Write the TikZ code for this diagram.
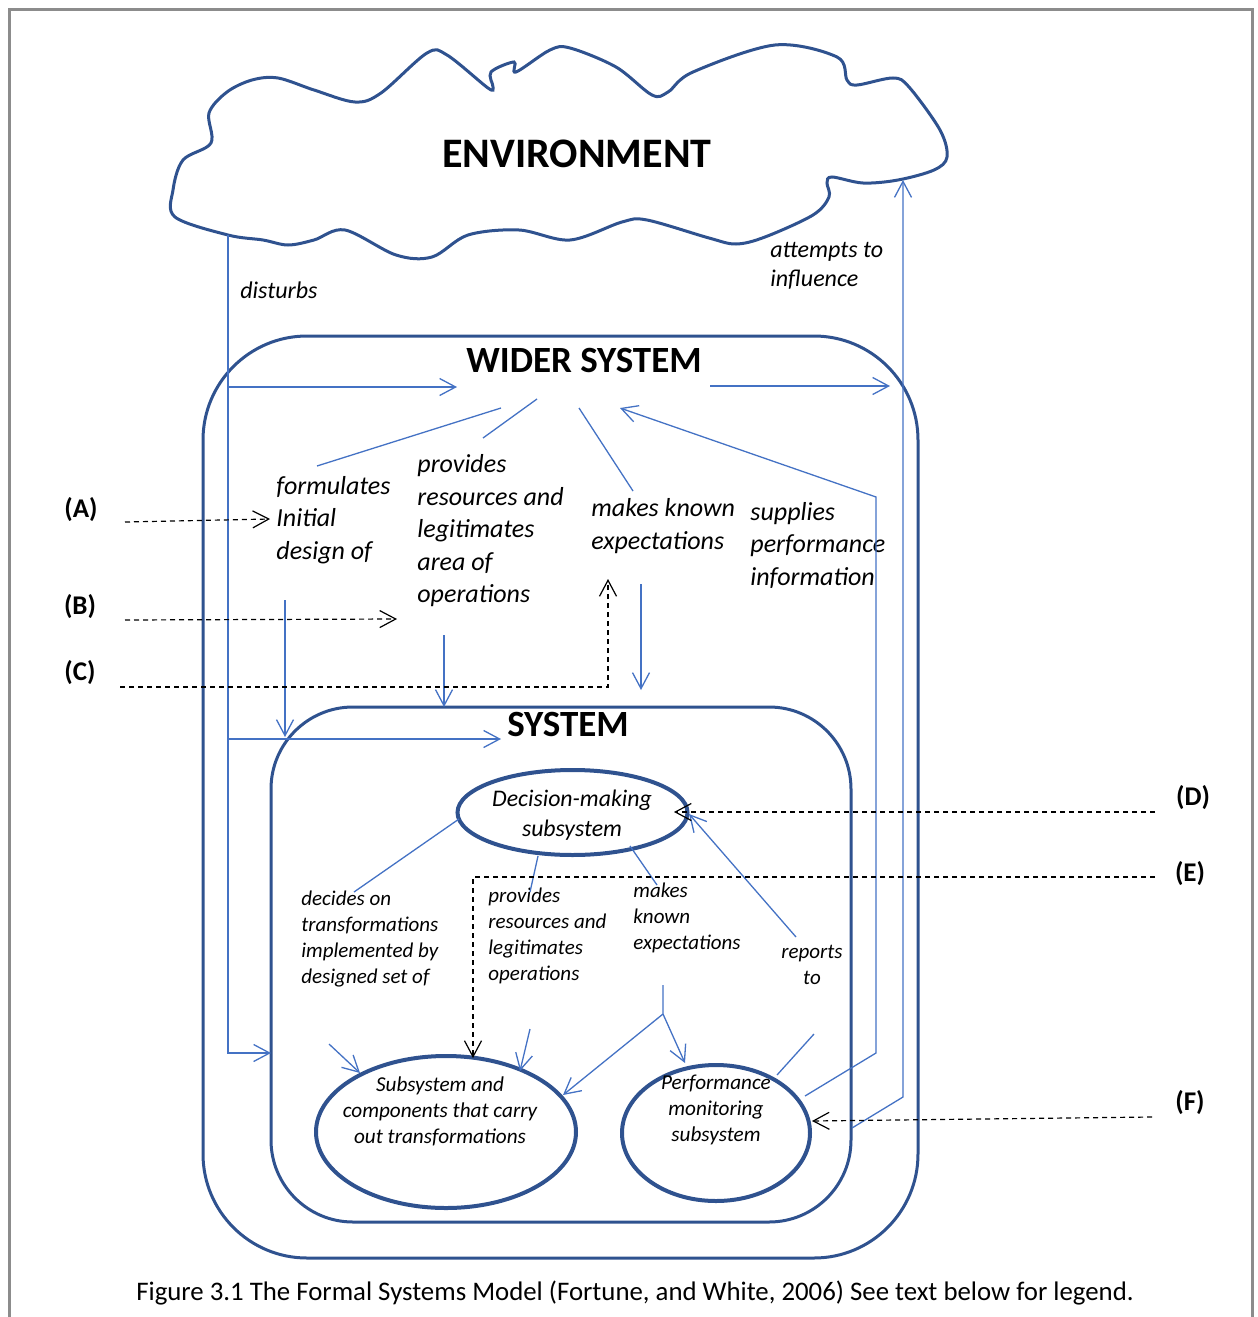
\documentclass[tikz,border=0pt]{standalone}
\usepackage{fontspec}
\setmainfont{Carlito}
\usetikzlibrary{arrows.meta,shapes.geometric}
\definecolor{framegray}{HTML}{8C8C8C}
\definecolor{outlineblue}{HTML}{2F528F}
\definecolor{linkblue}{HTML}{4472C4}
\begin{document}
\begin{tikzpicture}[x=0.5pt,y=-0.5pt,
  thinlink/.style={draw=linkblue,line width=0.65pt},
  arrowlink/.style={thinlink,-{Straight Barb[length=8pt,width=8.5pt]}},
  dashlink/.style={draw=black,line width=0.6pt,dash pattern=on 2.5pt off 2pt,-{Straight Barb[length=8pt,width=8.5pt]}},
  boxline/.style={draw=outlineblue,line width=1.5pt},
  oval/.style={ellipse,draw=outlineblue,line width=2pt,inner sep=0pt},
  bigtitle/.style={font=\bfseries\fontsize{21}{25}\selectfont,inner sep=0pt},
  midtitle/.style={font=\bfseries\fontsize{18.5}{22}\selectfont,inner sep=0pt},
  verb/.style={font=\itshape\fontsize{13}{16.25}\selectfont,align=left,inner sep=0pt,anchor=west},
  outerverb/.style={font=\itshape\fontsize{12}{14.5}\selectfont,align=left,inner sep=0pt,anchor=west},
  innerverb/.style={font=\itshape\fontsize{10.5}{13}\selectfont,align=left,inner sep=0pt,anchor=west},
  ovaltext/.style={font=\itshape\fontsize{10.6}{13}\selectfont,align=center,inner sep=0pt},
  tag/.style={font=\bfseries\fontsize{13.5}{16}\selectfont,inner sep=0pt}
]
\useasboundingbox (0,0) rectangle (1258,1317);

% page frame (open at the bottom)
\draw[framegray,line width=1.5pt] (9,1330) -- (9,9) -- (1252,9) -- (1252,1330);

% the environment cloud
\draw[outlineblue,line width=1.5pt] plot[smooth cycle,tension=0.55] coordinates {
  (228,235) (175,217) (173,190) (183,160) (211,143) (209,113) (227,92)
  (252,80) (278,78) (314,90) (355,102) (381,93) (427,53) (447,55)
  (488,88) (493,87) (491,72) (514,62) (516,72) (550,50) (570,48)
  (616,67) (652,95) (668,92) (693,72) (775,45) (837,57) (847,80)
  (857,85) (893,78) (909,87) (940,130) (947,157) (934,170) (898,180)
  (863,183) (832,177) (827,183) (829,197) (813,215) (765,237) (736,244)
  (709,238) (647,220) (622,222) (570,240) (519,230) (468,235) (432,257)
  (396,255) (345,230) (314,240) (288,245) (263,240)};
\node[bigtitle] (env) at (577,154) {ENVIRONMENT};

% wider system and system boxes
\node[boxline,rounded corners=52pt,minimum width=357.5pt,minimum height=461pt,inner sep=0pt] (wider) at (560.5,797) {};
\node[boxline,rounded corners=41pt,minimum width=290pt,minimum height=257.5pt,inner sep=0pt] (system) at (561,964.5) {};
\node[midtitle] (widertitle) at (584,360) {WIDER SYSTEM};
\node[midtitle] (systitle) at (568,724) {SYSTEM};

% subsystems
\node[oval,minimum width=115pt,minimum height=42.5pt] (dm) at (572.5,812.5) {};
\node[oval,minimum width=130pt,minimum height=76pt] (sub) at (446,1132) {};
\node[oval,minimum width=94pt,minimum height=68pt] (perf) at (716,1133) {};
\node[ovaltext,font=\itshape\fontsize{11.9}{15}\selectfont] (dmtext) at (572,815) {Decision-making\\subsystem};
\node[ovaltext] (subtext) at (440,1111) {Subsystem and\\components that carry\\out transformations};
\node[ovaltext] (perftext) at (716,1110) {Performance\\monitoring\\subsystem};

% verbs between environment and wider system
\node[outerverb] (disturbs) at (240,290) {disturbs};
\node[outerverb] (attempts) at (770,266) {attempts to\\influence};

% verbs inside the wider system
\node[verb] (formulates) at (276,520) {formulates\\Initial\\design of};
\node[verb] (provides) at (417,531) {provides\\resources and\\legitimates\\area of\\operations};
\node[verb] (makesknown) at (591,526) {makes known\\expectations};
\node[verb] (supplies) at (750,545) {supplies\\performance\\information};

% verbs inside the system
\node[innerverb] (decides) at (301,939) {decides on\\transformations\\implemented by\\designed set of};
\node[innerverb] (provides2) at (488,935.5) {provides\\resources and\\legitimates\\operations};
\node[innerverb] (makes2) at (633,918) {makes\\known\\expectations};
\node[innerverb,align=center,anchor=center] (reports) at (812,965) {reports\\to};

% legend tags
\node[tag] (tA) at (81,510) {(A)};
\node[tag] (tB) at (80,607) {(B)};
\node[tag] (tC) at (80,673) {(C)};
\node[tag] (tD) at (1193,798) {(D)};
\node[tag] (tE) at (1190,874) {(E)};
\node[tag] (tF) at (1190,1103) {(F)};

% caption
\node[font=\fontsize{13.4}{16}\selectfont,inner sep=0pt] (caption) at (635,1293)
  {Figure 3.1 The Formal Systems Model (Fortune, and White, 2006) See text below for legend.};

% connector end points
\coordinate (envfoot) at (228,235);
\coordinate (envright) at (903,180);
\coordinate (distcorner) at (228,1053);
\coordinate (sysleft) at (271,1053);
\coordinate (distA) at (228,387);
\coordinate (widerin) at (457,387);
\coordinate (distB) at (228,739);
\coordinate (sysin) at (501,739);
\coordinate (widerout) at (710,386);
\coordinate (wideroutend) at (890,386);
\coordinate (infl0) at (852,1128);
\coordinate (infl1) at (903,1097);
\coordinate (sup0) at (805,1096);
\coordinate (sup1) at (876,1053);
\coordinate (sup2) at (876,497);
\coordinate (sup3) at (620,408);
\coordinate (form0) at (317,466);
\coordinate (form1) at (501,408);
\coordinate (prov0) at (483,438);
\coordinate (prov1) at (537,399);
\coordinate (mk0) at (633,491);
\coordinate (mk1) at (579,408);
\coordinate (formdown0) at (285,600);
\coordinate (formdown1) at (285,737);
\coordinate (provdown0) at (444,635);
\coordinate (provdown1) at (444,707);
\coordinate (mkdown0) at (641,584);
\coordinate (mkdown1) at (641,690);
\coordinate (dec0) at (459,819);
\coordinate (dec1) at (354,892);
\coordinate (prov2a) at (538,856);
\coordinate (prov2b) at (530,892);
\coordinate (mk2a) at (630,846);
\coordinate (mk2b) at (657,885);
\coordinate (rep0) at (796,937);
\coordinate (rep1) at (689,814);
\coordinate (rep2) at (777,1075);
\coordinate (rep3) at (814,1034);
\coordinate (dec2) at (329,1044);
\coordinate (dec3) at (360,1073);
\coordinate (prov2c) at (530,1029);
\coordinate (prov2d) at (520,1071);
\coordinate (mk2c) at (663,985);
\coordinate (mk2fork) at (663,1014);
\coordinate (mk2sub) at (563,1095);
\coordinate (mk2perf) at (685,1063);

% environment, wider system and system links
\draw[arrowlink] (envfoot) -- (distcorner) -- (sysleft);
\draw[arrowlink] (distA) -- (widerin);
\draw[arrowlink] (distB) -- (sysin);
\draw[arrowlink] (widerout) -- (wideroutend);
\draw[arrowlink] (infl0) -- (infl1) -- (envright);
\draw[arrowlink] (sup0) -- (sup1) -- (sup2) -- (sup3);
\draw[thinlink] (form0) -- (form1);
\draw[thinlink] (prov0) -- (prov1);
\draw[thinlink] (mk0) -- (mk1);
\draw[arrowlink] (formdown0) -- (formdown1);
\draw[arrowlink] (provdown0) -- (provdown1);
\draw[arrowlink] (mkdown0) -- (mkdown1);

% links inside the system
\draw[thinlink] (dec0) -- (dec1);
\draw[thinlink] (prov2a) -- (prov2b);
\draw[thinlink] (mk2a) -- (mk2b);
\draw[arrowlink] (rep0) -- (rep1);
\draw[thinlink] (rep2) -- (rep3);
\draw[arrowlink] (dec2) -- (dec3);
\draw[arrowlink] (prov2c) -- (prov2d);
\draw[arrowlink] (mk2c) -- (mk2fork) -- (mk2sub);
\draw[arrowlink] (mk2fork) -- (mk2perf);

% dashed legend pointers
\coordinate (a0) at (125,522);
\coordinate (a1) at (270,519);
\coordinate (b0) at (125,620);
\coordinate (b1) at (397,619);
\coordinate (c0) at (120,687);
\coordinate (c1) at (608,687);
\coordinate (c2) at (608,579);
\coordinate (d0) at (1155,812);
\coordinate (d1) at (674,812);
\coordinate (e0) at (1155,877);
\coordinate (e1) at (473,877);
\coordinate (e2) at (473,1058);
\coordinate (f0) at (1152,1117);
\coordinate (f1) at (812,1121);
\draw[dashlink] (a0) -- (a1);
\draw[dashlink] (b0) -- (b1);
\draw[dashlink] (c0) -- (c1) -- (c2);
\draw[dashlink] (d0) -- (d1);
\draw[dashlink] (e0) -- (e1) -- (e2);
\draw[dashlink] (f0) -- (f1);
\end{tikzpicture}
\end{document}
